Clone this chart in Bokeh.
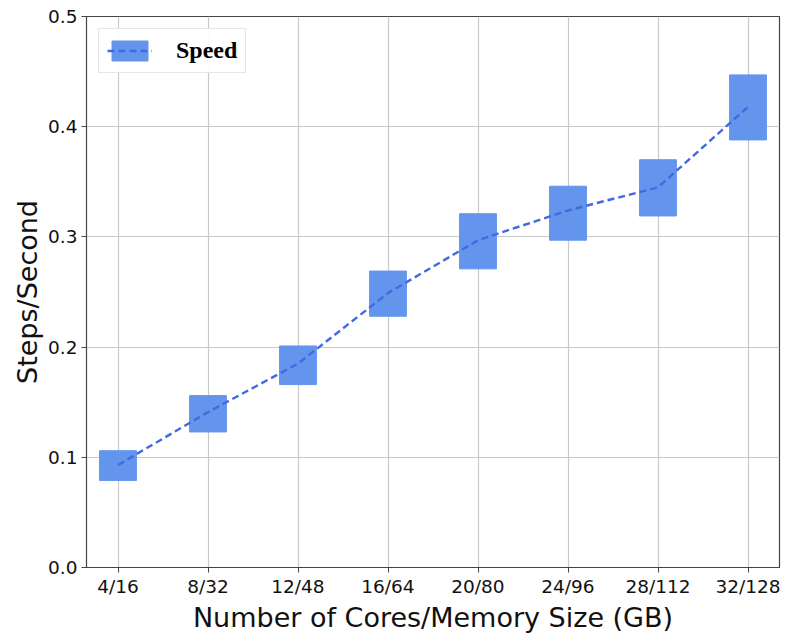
from bokeh.plotting import figure
from bokeh.models import ColumnDataSource, Legend, LegendItem, SingleIntervalTicker, NumeralTickFormatter, FixedTicker, Range1d
from bokeh.embed import file_html
from bokeh.resources import INLINE

categories = ["4/16", "8/32", "12/48", "16/64", "20/80", "24/96", "28/112", "32/128"]
speed_mean = [0.093, 0.141, 0.185, 0.249, 0.297, 0.324, 0.345, 0.418]
speed_low = [0.079, 0.123, 0.166, 0.228, 0.271, 0.297, 0.319, 0.388]
speed_high = [0.106, 0.156, 0.201, 0.269, 0.321, 0.346, 0.370, 0.447]

idx = list(range(len(categories)))
src = ColumnDataSource(dict(x=idx, mean=speed_mean, low=speed_low, high=speed_high))

p = figure(width=787, height=635, output_backend="svg", toolbar_location=None,
           x_range=Range1d(-0.35, len(categories) - 1 + 0.35),
           y_range=Range1d(0, 0.5),
           min_border_left=86, min_border_right=8, min_border_top=16, min_border_bottom=67)

bars = p.vbar(x="x", top="high", bottom="low", width=0.41, source=src,
              fill_color="#6495ED", line_color="#6495ED", fill_alpha=1.0)
line = p.line(x="x", y="mean", source=src, line_color="#4169E1", line_width=2.4, line_dash="7 4")

p.xaxis.ticker = FixedTicker(ticks=idx)
p.xaxis.major_label_overrides = {i: c for i, c in zip(idx, categories)}
p.yaxis.ticker = SingleIntervalTicker(interval=0.1)
p.yaxis.formatter = NumeralTickFormatter(format="0.0")

for ax in (p.xaxis[0], p.yaxis[0]):
    ax.axis_label_text_font = "DejaVu Sans"
    ax.axis_label_text_font_style = "normal"
    ax.axis_label_text_font_size = "27px"
    ax.axis_label_text_color = "#111111"
    ax.major_label_text_font = "DejaVu Sans"
    ax.major_label_text_font_size = "18.5px"
    ax.major_label_text_color = "#111111"
    ax.axis_line_color = "#444444"
    ax.major_tick_line_color = "#444444"
    ax.major_tick_out = 5
    ax.major_tick_in = 0
    ax.minor_tick_line_color = None
    ax.axis_label_standoff = 2

p.xaxis.axis_label = "Number of Cores/Memory Size (GB)"
p.yaxis.axis_label = "Steps/Second"
p.xaxis.major_label_standoff = 3
p.yaxis.major_label_standoff = 4

p.xgrid.grid_line_color = "#c8c8c8"
p.ygrid.grid_line_color = "#c8c8c8"
p.xgrid.grid_line_width = 1.2
p.ygrid.grid_line_width = 1.2
p.outline_line_color = "#444444"
p.outline_line_width = 1.2

legend = Legend(items=[LegendItem(label="Speed", renderers=[bars, line])],
                location="top_left")
legend.label_text_font = "Liberation Serif"
legend.label_text_font_style = "bold"
legend.label_text_font_size = "24px"
legend.label_text_color = "#000000"
legend.glyph_width = 45
legend.glyph_height = 25
legend.label_standoff = 24
legend.padding = 8
legend.margin = 12
legend.border_line_color = "#d0d0d0"
legend.border_line_width = 1
legend.background_fill_alpha = 0.9
p.add_layout(legend)

open("out.html", "w").write(file_html(p, INLINE))
